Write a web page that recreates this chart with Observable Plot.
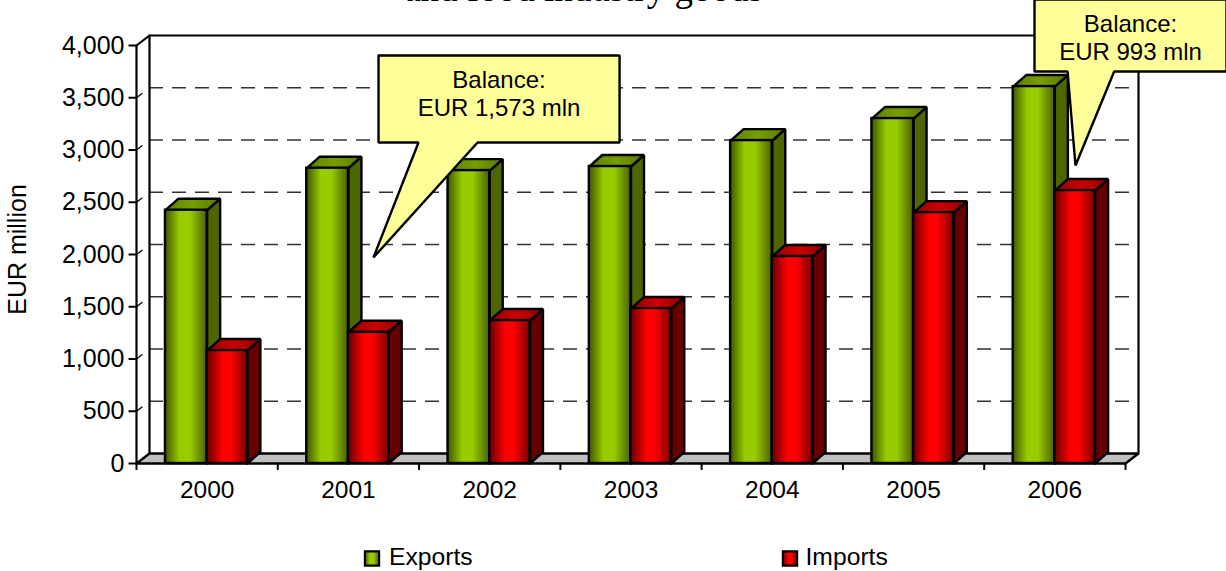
<!DOCTYPE html>
<html><head><meta charset="utf-8">
<script src="https://cdn.jsdelivr.net/npm/d3@7"></script>
<script src="https://cdn.jsdelivr.net/npm/@observablehq/plot@0.6"></script>
<style>html,body{margin:0;padding:0;background:#fff}svg{display:block}</style>
</head><body>
<script>
const years = [2000, 2001, 2002, 2003, 2004, 2005, 2006];
const exportsValues = [2424, 2826, 2803, 2842, 3090, 3301, 3607];
const importsValues = [1081, 1256, 1368, 1483, 1981, 2401, 2612];
const yTicks = [0, 500, 1000, 1500, 2000, 2500, 3000, 3500, 4000];
const callouts = [
  {lines: ["Balance:", "EUR 1,573 mln"], x1: 2001.713, x2: 2003.419, top: 3904, bottom: 3072, baseL: 2001.996, baseR: 2002.414, tipX: 2001.677, tipY: 1971},
  {lines: ["Balance:", "EUR 993 mln"], x1: 2006.356, x2: 2007.715, top: 4440, bottom: 3751, baseL: 2006.59, baseR: 2006.92, tipX: 2006.646, tipY: 2852}
];
const FONT = "Liberation Sans, Arial, sans-serif";
const FS = 24, TICK_FS = 25, YEAR_FS = 24.5, LEGEND_FS = 24.7;

// depth of the 3D box, in data units
const wallX = 13 / 141.286, wallY = 10 / 0.1045;
const barX = 13 / 141.286, barY = 11.5 / 0.1045;
const exportsSpan = [0.205, 0.5], importsSpan = [0.5, 0.785];

function faces(values, span, kind) {
  const rows = [];
  values.forEach((v, i) => {
    const a = years[i] + span[0], b = years[i] + span[1];
    const pts = kind === "side"
      ? [[b, 0], [b + barX, barY], [b + barX, v + barY], [b, v], [b, 0]]
      : [[a, v], [a + barX, v + barY], [b + barX, v + barY], [b, v], [a, v]];
    pts.forEach(([x, y]) => rows.push({id: years[i], x, y}));
  });
  return rows;
}
const poly = (rows, fill) => Plot.line(rows, {x: "x", y: "y", z: "id", fill, stroke: "#000", strokeWidth: 2.4, strokeLinejoin: "miter", curve: "linear"});
const grad = (id, stops) => `<linearGradient id="${id}" x1="0" x2="1" y1="0" y2="0">` +
  stops.map(([o, c]) => `<stop offset="${o}" stop-color="${c}"/>`).join("") + `</linearGradient>`;

const defs = () => {
  const g = document.createElementNS("http://www.w3.org/2000/svg", "g");
  g.innerHTML = "<defs>" +
    grad("gF", [[0, "#3f5300"], [.35, "#99cc00"], [.6, "#99cc00"], [1, "#4a6200"]]) +
    grad("gT", [[0, "#5f7f00"], [.5, "#769e00"], [1, "#5a7800"]]) +
    grad("rF", [[0, "#660000"], [.4, "#ff0000"], [.6, "#ff0000"], [1, "#7a0000"]]) +
    grad("rT", [[0, "#8f0000"], [.5, "#cc0000"], [1, "#8a0000"]]) +
    "</defs>";
  return g;
};
const front = (values, span, fill) => Plot.rect(years.map((y, i) => ({x1: y + span[0], x2: y + span[1], v: values[i]})),
  {x1: "x1", x2: "x2", y1: () => 0, y2: "v", fill, stroke: "#000", strokeWidth: 2.4});

const calloutRows = callouts.flatMap((c, i) => [
  [c.x1, c.top], [c.x2, c.top], [c.x2, c.bottom], [c.baseR, c.bottom], [c.tipX, c.tipY], [c.baseL, c.bottom], [c.x1, c.bottom], [c.x1, c.top]
].map(([x, y]) => ({id: i, x, y})));
const calloutLabels = callouts.flatMap(c => c.lines.map((t, j) => ({
  t, x: (c.x1 + c.x2) / 2, y: c.top, row: j
})));

const floor = [[2000, 0], [2000 + wallX, wallY], [2007 + wallX, wallY], [2007, 0], [2000, 0]].map(([x, y]) => ({id: 0, x, y}));
const stubs = yTicks.slice(1, -1);
const px = d => d[0], py = d => d[1];

const chart = Plot.plot({
  width: 1226, height: 571,
  marginTop: 0, marginRight: 0, marginBottom: 0, marginLeft: 0,
  style: {background: "#fff", fontFamily: FONT, fontSize: FS + "px", color: "#000", overflow: "hidden"},
  x: {type: "linear", domain: [2000, 2007], range: [136, 1125], axis: null},
  y: {type: "linear", domain: [0, 4000], range: [463, 45], axis: null},
  marks: [
    defs,
    // title, cut off by the top of the picture
    Plot.text(["and food industry goods"], {frameAnchor: "top-left", dx: 583, dy: 0.5, textAnchor: "middle", lineAnchor: "bottom", fontFamily: "Liberation Serif, serif", fontSize: 37, fill: "#000"}),
    // back wall
    Plot.ruleY(stubs, {x1: () => 2000, x2: () => 2007, dx: 13, dy: -10, stroke: "#333", strokeWidth: 1.3, strokeDasharray: "14 9"}),
    Plot.line([[2000 + wallX, wallY], [2000 + wallX, 4000 + wallY], [2007 + wallX, 4000 + wallY], [2007 + wallX, wallY]], {x: px, y: py, stroke: "#000", strokeWidth: 2.2}),
    // floor
    poly(floor, "#c0c0c0"),
    // front axes
    Plot.ruleX([2000], {y1: () => 0, y2: () => 4000, stroke: "#000", strokeWidth: 2.2}),
    Plot.line([[2000, 4000], [2000 + wallX, 4000 + wallY]], {x: px, y: py, stroke: "#000", strokeWidth: 2.2}),
    Plot.ruleY(yTicks, {y: d => d, x1: () => 2000, x2: () => 2000 - 7.5 / 141.286, stroke: "#000", strokeWidth: 2}),
    Plot.link(stubs, {x1: () => 2000, x2: () => 2000 + wallX * 0.45, y1: d => d, y2: d => d + wallY * 0.45, stroke: "#000", strokeWidth: 1.3}),
    Plot.text(yTicks, {x: () => 2000, y: d => d, text: d => d3.format(",")(d), textAnchor: "end", dx: -12, fontSize: TICK_FS, fill: "#000"}),
    Plot.ruleX(d3.range(2000, 2008), {x: d => d, y1: () => 0, y2: () => -7 / 0.1045, stroke: "#000", strokeWidth: 2}),
    Plot.text(years, {x: d => d + 0.5, y: () => 0, text: d => String(d), dy: 27, fontSize: YEAR_FS, fill: "#000"}),
    Plot.text(["EUR million"], {frameAnchor: "top-left", dx: 8, dy: 249, rotate: -90, textAnchor: "middle", fontSize: 25, fill: "#000"}),
    // bars
    poly(faces(exportsValues, exportsSpan, "side"), "#4d6600"),
    poly(faces(exportsValues, exportsSpan, "top"), "url(#gT)"),
    front(exportsValues, exportsSpan, "url(#gF)"),
    poly(faces(importsValues, importsSpan, "side"), "#660000"),
    poly(faces(importsValues, importsSpan, "top"), "url(#rT)"),
    front(importsValues, importsSpan, "url(#rF)"),
    // callouts
    poly(calloutRows, "#ffff99"),
    Plot.text(calloutLabels.filter(d => d.row === 0), {x: "x", y: "y", text: "t", dy: 25, fontSize: FS, fill: "#000"}),
    Plot.text(calloutLabels.filter(d => d.row === 1), {x: "x", y: "y", text: "t", dy: 53, fontSize: FS, fill: "#000"}),
    // legend
    Plot.dot([0], {frameAnchor: "top-left", dx: 371.5, dy: 558, symbol: "square", r: 8, fill: "url(#gF)", stroke: "#000", strokeWidth: 2.2}),
    Plot.dot([0], {frameAnchor: "top-left", dx: 789.5, dy: 558, symbol: "square", r: 8, fill: "url(#rF)", stroke: "#000", strokeWidth: 2.2}),
    Plot.text(["Exports"], {frameAnchor: "top-left", dx: 388.5, dy: 557, textAnchor: "start", lineAnchor: "middle", fontSize: LEGEND_FS, fill: "#000"}),
    Plot.text(["Imports"], {frameAnchor: "top-left", dx: 805, dy: 557, textAnchor: "start", lineAnchor: "middle", fontSize: LEGEND_FS, fill: "#000"})
  ]
});
document.body.append(chart);
</script>
</body></html>
